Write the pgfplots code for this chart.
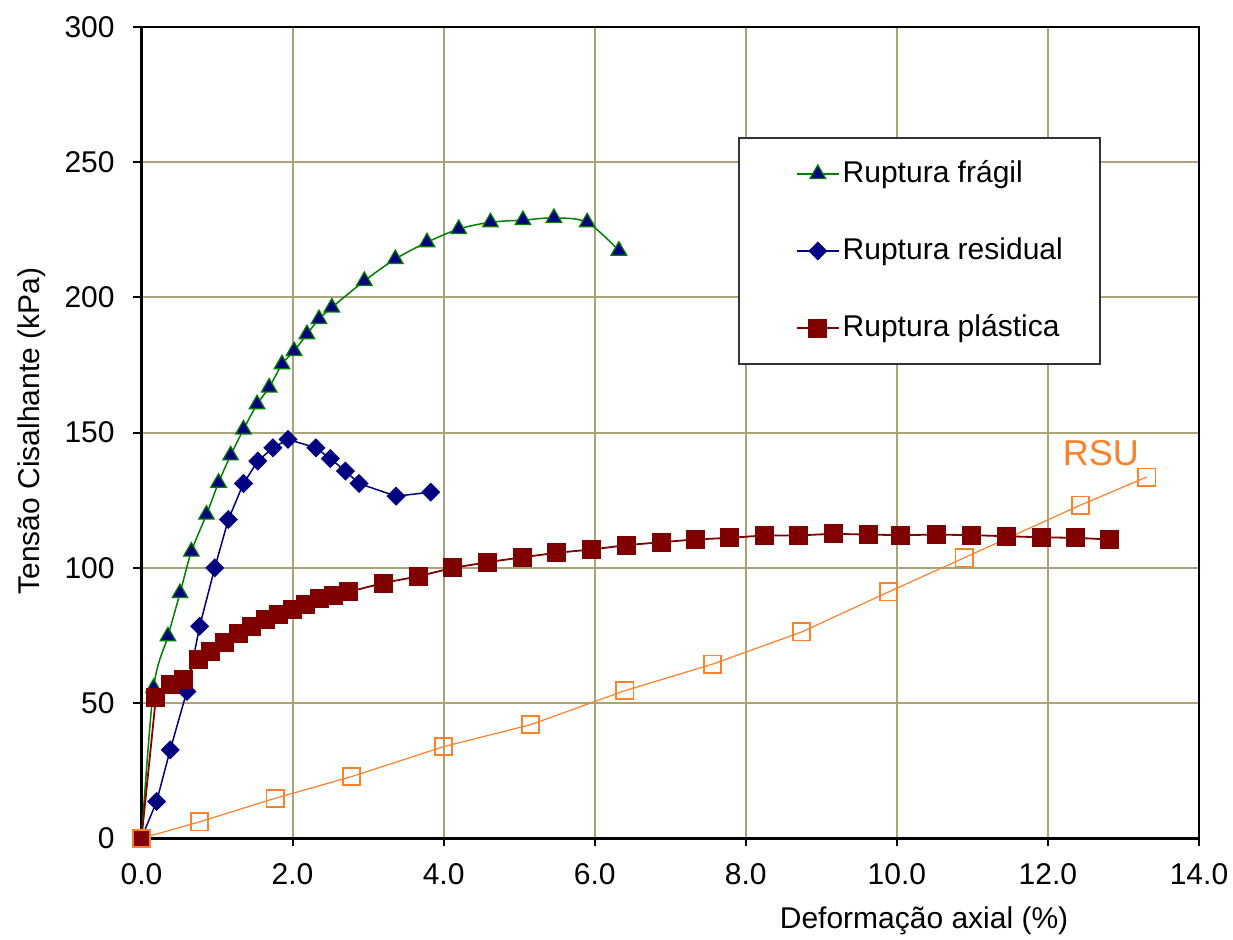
\documentclass[border=0pt]{standalone}
\usepackage{fontspec}
\setmainfont{Liberation Sans}
\usepackage{pgfplots}
\pgfplotsset{compat=1.18}
\definecolor{gridc}{RGB}{170,162,120}
\definecolor{fgreen}{RGB}{0,128,0}
\definecolor{fnavy}{RGB}{0,0,128}
\definecolor{fred}{RGB}{128,0,0}
\definecolor{forange}{RGB}{255,128,40}
\begin{document}
\begin{tikzpicture}
\useasboundingbox (-70.75pt,-50.35pt) rectangle (545.75pt,419.15pt);
\begin{axis}[
  at={(0,0)}, anchor=south west,
  scale only axis, width=528.75pt, height=405.65pt,
  xmin=0, xmax=14, ymin=0, ymax=300,
  xtick={0,2,...,14}, ytick={0,50,...,300},
  grid=major, major grid style={gridc, line width=1pt},
  axis line style={black, line width=1.25pt},
  tick align=outside, tick pos=left,
  major tick length=4pt, tick style={black, line width=1pt},
  font=\fontsize{15pt}{18pt}\selectfont,
  /pgf/number format/assume math mode=true,
  xticklabel style={/pgf/number format/.cd, fixed, fixed zerofill, precision=1, /tikz/.cd, inner sep=0pt, yshift=-8.5pt},
  yticklabel style={inner sep=0pt, xshift=-9.25pt},
  xlabel={Deformação axial (\%)},
  xlabel style={at={(axis description cs:0.740,-0.102)}, anchor=center},
  ylabel={Tensão Cisalhante (kPa)},
  ylabel style={at={(axis description cs:-0.1035,0.502)}, anchor=center, rotate=0},
  clip=false,
  legend style={at={(axis description cs:0.564,0.8644)}, anchor=north west,
    draw=black!80, line width=1pt, fill=white, inner xsep=18.5pt, inner ysep=11pt,
    row sep=24.5pt, column sep=1.5pt,
    nodes={inner sep=0pt, text height=11pt, text depth=3pt}},
  legend cell align=left,
  legend image code/.code={\path (0pt,0pt); \draw[mark repeat=2,mark phase=2,#1] plot coordinates {(10pt,0pt) (20.5pt,0pt) (31pt,0pt)};},
]
\addplot[color=fgreen, line width=0.75pt, smooth, mark=triangle*, mark size=4.5pt,
  mark options={fill=fnavy, draw=fgreen, line width=0.6pt, solid}] table {
x y
0 0
0.16 55.6
0.35 74.7
0.51 90.7
0.66 106
0.86 119.7
1.02 131.5
1.18 141.6
1.35 151.2
1.53 160.5
1.69 166.7
1.86 175.3
2.02 180.2
2.19 186.4
2.35 192
2.52 196.3
2.95 206.1
3.36 214.2
3.78 220.4
4.20 225.3
4.62 227.8
5.05 228.6
5.46 229.4
5.90 227.8
6.32 217.3
};
\addlegendentry{Ruptura frágil}
\addplot[color=fnavy, line width=0.75pt, mark=square*, mark size=3.0pt,
  mark options={rotate=45, fill=fnavy, draw=fnavy, solid}] table {
x y
0 0
0.20 13.6
0.38 32.7
0.60 54.3
0.77 78.4
0.97 100
1.15 117.9
1.35 131.2
1.54 139.5
1.74 144.4
1.94 147.5
2.31 144.4
2.50 140.4
2.70 135.8
2.88 131.2
3.37 126.5
3.83 128
};
\addlegendentry{Ruptura residual}
\addplot[color=fred, line width=0.9pt, mark=square*, mark size=4.3pt,
  mark options={fill=fred, solid}] table {
x y
0 0
0.19 51.9
0.38 56.8
0.55 58.6
0.75 66
0.92 69.1
1.10 72.4
1.28 75.7
1.46 78.4
1.64 80.9
1.82 82.7
2.00 84.6
2.17 86.4
2.36 88.6
2.54 89.9
2.74 91.1
3.20 94.4
3.67 96.9
4.12 100
4.58 102.1
5.04 103.9
5.50 105.6
5.96 106.8
6.42 108.4
6.88 109.5
7.33 110.5
7.79 111.1
8.25 112
8.70 112
9.16 112.6
9.63 112.3
10.05 112.1
10.53 112.3
10.99 112.1
11.45 111.7
11.91 111.3
12.37 111.1
12.82 110.5
};
\addlegendentry{Ruptura plástica}
\addplot[color=forange, line width=0.6pt, mark=square, mark size=4.3pt,
  mark options={line width=0.9pt, solid}, forget plot] table {
x y
0 0
0.77 6.1
1.77 14.8
2.78 22.8
4.0 33.9
5.15 42
6.40 54.6
7.56 64.4
8.74 76.3
9.89 91.1
10.89 103.7
12.43 123.2
13.31 133.6
};
\node[text=forange, font=\fontsize{18pt}{20pt}\selectfont, inner sep=0pt] at (axis cs:12.7,142.4) {RSU};
\end{axis}
\end{tikzpicture}
\end{document}
